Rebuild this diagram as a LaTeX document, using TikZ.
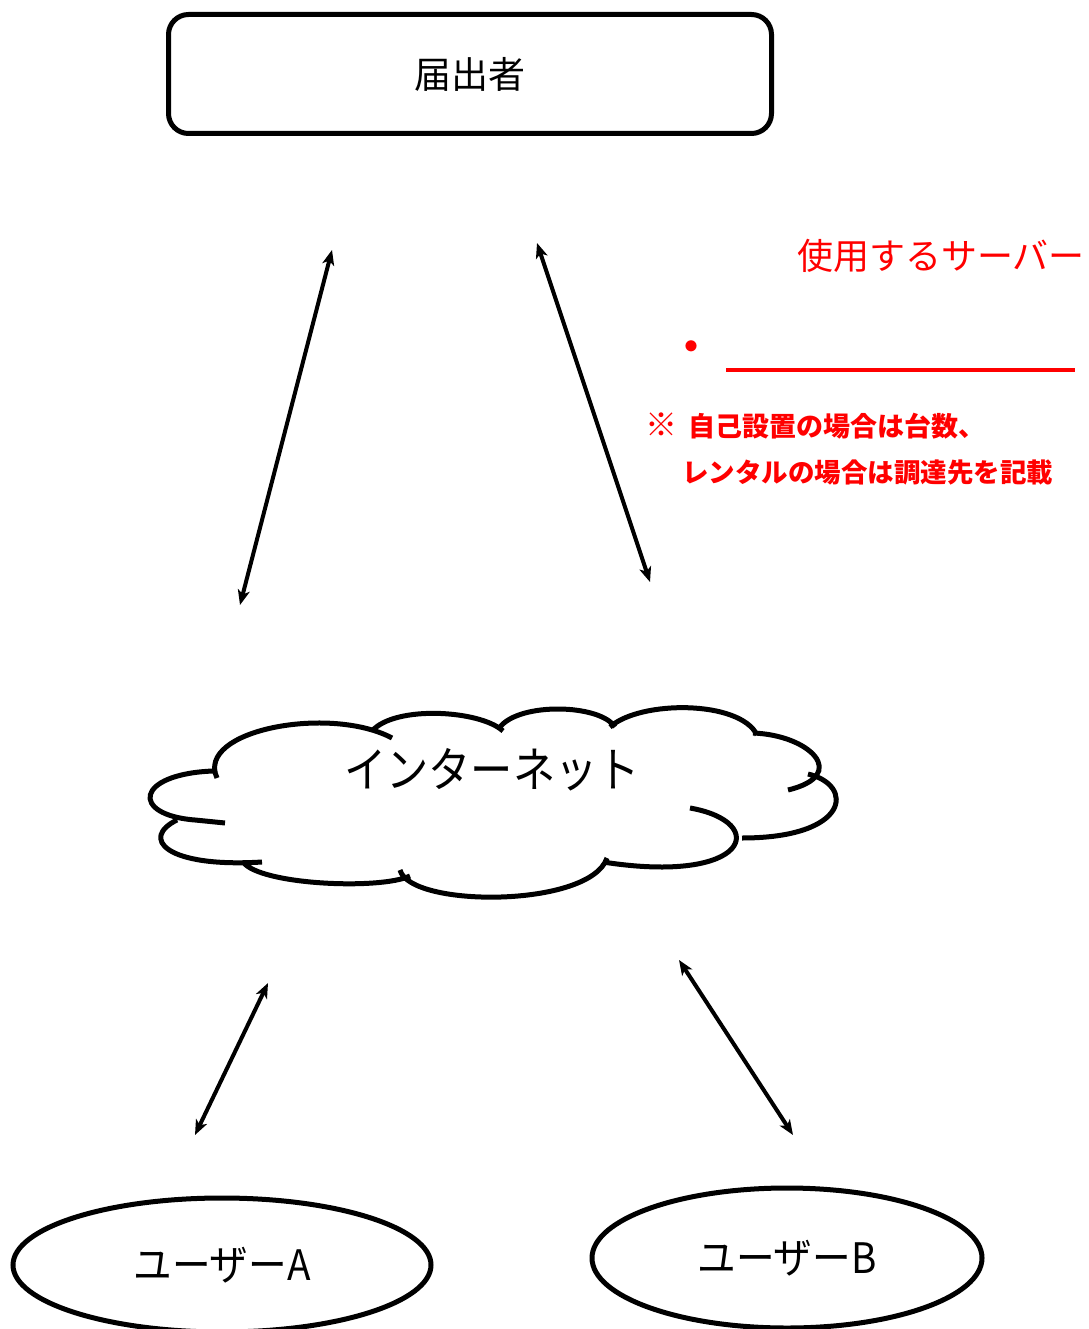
\documentclass[tikz,border=0pt]{standalone}
\usepackage{fontspec}
\setmainfont{Noto Sans CJK JP}
\usetikzlibrary{arrows.meta,shapes.geometric}
\definecolor{myred}{RGB}{255,0,0}
\tikzset{
  shape line/.style={draw=black, line width=5pt},
  link/.style={line width=4pt, {Stealth[length=15pt,width=12pt,inset=4pt]}-{Stealth[length=15pt,width=12pt,inset=4pt]}},
  cloud line/.style={line width=5pt, line cap=butt},
  redtext/.style={text=myred, inner sep=0pt},
}
\begin{document}
\begin{tikzpicture}[x=1pt,y=-1pt]
\useasboundingbox (0,0) rectangle (1088,1329);
% 届出者
\node[shape line, rounded corners=20pt, minimum width=603pt, minimum height=119pt, inner sep=0pt,
      font=\fontsize{37}{40}\selectfont] (todoke) at (470,74) {\raisebox{-4pt}{届出者}};
% cloud
\draw[cloud line]
  (217,778) .. controls (195,730) and (330,705) .. (392,738)
  (372,731) .. controls (395,705) and (480,710) .. (503,731)
  (500,727) .. controls (520,702) and (600,704) .. (615,727)
  (610,727) .. controls (640,700) and (740,700) .. (757,735)
  (753,733) .. controls (810,735) and (850,775) .. (788,790)
  (808,774) .. controls (855,785) and (850,838) .. (742,838)
  (690,808) .. controls (770,822) and (750,885) .. (603,862)
  (607,858) .. controls (590,908) and (410,908) .. (400,870)
  (410,876) .. controls (380,890) and (260,885) .. (243,862)
  (177,820) .. controls (140,838) and (165,868) .. (262,862)
  (213,771) .. controls (135,774) and (130,815) .. (195,820) -- (225,823);
\node[inner sep=0pt, font=\fontsize{48}{50}\selectfont] (net) at (492,770) {\scalebox{0.88}[1]{インターネット}};
% users
\node[shape line, ellipse, minimum width=418pt, minimum height=134pt, inner sep=0pt,
      font=\fontsize{42}{44}\selectfont] (userA) at (222,1265) {\raisebox{-8pt}{\scalebox{0.92}[1]{ユーザーA}}};
\node[shape line, ellipse, minimum width=390pt, minimum height=140pt, inner sep=0pt,
      font=\fontsize{42}{44}\selectfont] (userB) at (787,1258) {\raisebox{-6pt}{\scalebox{0.92}[1]{ユーザーB}}};
% red annotations
\node[redtext, font=\fontsize{36}{40}\selectfont] (server) at (941,256) {使用するサーバー};
\node[redtext, font=\bfseries\fontsize{40}{40}\selectfont] (dot) at (691,351) {・};
\coordinate (lineL) at (726,370);
\coordinate (lineR) at (1075,370);
\draw[myred, line width=3.5pt] (lineL) -- (lineR);
\node[redtext, anchor=west, font=\bfseries\fontsize{27}{30}\selectfont] (note1) at (645,426) {{\fontsize{32}{30}\selectfont ※}\hspace{11pt}自己設置の場合は台数、};
\node[redtext, anchor=west, font=\bfseries\fontsize{26.5}{30}\selectfont] (note2) at (682,472) {レンタルの場合は調達先を記載};
% arrows
\coordinate (a1s) at (240,605); \coordinate (a1e) at (332,250);
\coordinate (a2s) at (537,243); \coordinate (a2e) at (650,582);
\coordinate (a3s) at (195,1135); \coordinate (a3e) at (268,983);
\coordinate (a4s) at (679,960); \coordinate (a4e) at (793,1135);
\draw[link] (a1s) -- (a1e);
\draw[link] (a2s) -- (a2e);
\draw[link] (a3s) -- (a3e);
\draw[link] (a4s) -- (a4e);
\end{tikzpicture}
\end{document}
